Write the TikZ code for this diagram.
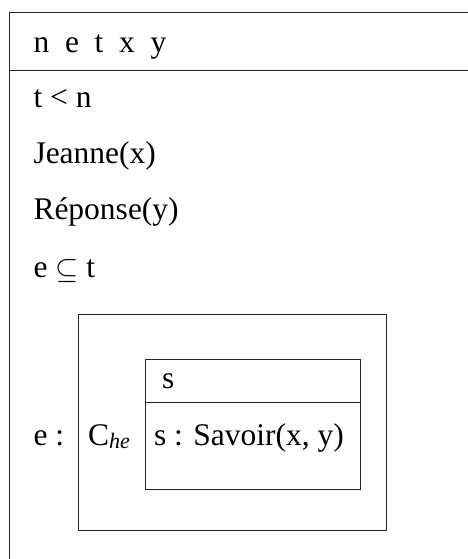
\documentclass[tikz,border=0pt]{standalone}
\usepackage{fontspec}
\usepackage{graphicx}
\setmainfont{Liberation Serif}
\begin{document}
\begin{tikzpicture}[x=1pt,y=-1pt,
  txt/.style={anchor=base west,inner sep=0pt,outer sep=0pt,font=\fontsize{31.5}{38}\selectfont},
  rule/.style={line width=1pt,black!85}]
\useasboundingbox (0,0) rectangle (468,559);
% outer DRS
\draw[rule] (468,12.5) -- (9.5,12.5) -- (9.5,559);
\draw[rule] (9.5,71) -- (468,71);
\node[txt] (hdr) at (33.5,53) {n\ \ e\ \ t\ \ x\ \ y};
\node[txt] (c1) at (33.5,108) {t < n};
\node[txt] (c2) at (33.5,163) {Jeanne(x)};
\node[txt] (c3) at (33.5,219) {Réponse(y)};
\node[txt] (c4) at (33.5,277) {e \raisebox{-1pt}{\scalebox{1.2}{$\subseteq$}} t};
\node[txt] (c5) at (33.5,445) {e :};
% C_he box
\draw[rule] (78,314) rectangle (386,530);
\node[txt] (che) at (88,445) {C\raisebox{-3pt}{\fontsize{22}{22}\selectfont\itshape he}};
% inner DRS
\draw[rule] (145.5,359) rectangle (360,489);
\draw[rule] (145.5,402) -- (360,402);
\node[txt] (shdr) at (162,388) {s};
\node[txt] (sav) at (154,445) {s : Savoir(x, y)};
\end{tikzpicture}
\end{document}
